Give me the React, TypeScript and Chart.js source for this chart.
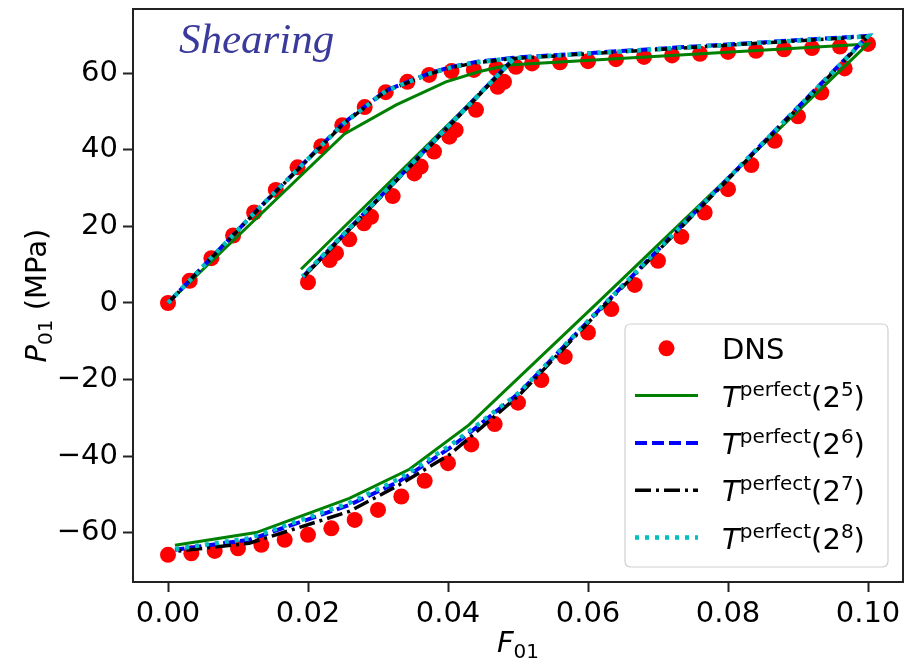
import React, { useEffect, useRef } from "react";
import { Chart, registerables } from "chart.js";

Chart.register(...registerables);

// ---- tick values ----
const xTicks = [0, 0.02, 0.04, 0.06, 0.08, 0.1];
const yTicks = [-60, -40, -20, 0, 20, 40, 60];

// ---- DNS reference points ----
const dnsX = [
  0, 0.0031, 0.0062, 0.0093, 0.0123, 0.0154, 0.0185, 0.0219, 0.0249, 0.0281, 0.0311, 0.0342, 0.0373, 0.0405, 0.0437, 0.0469,
  0.048, 0.044, 0.0411, 0.0361, 0.029, 0.024, 0.02, 0.0231, 0.0259, 0.028, 0.0321, 0.0352, 0.038, 0.0402, 0.0471,
  0.0497, 0.052, 0.056, 0.06, 0.064, 0.068, 0.072, 0.076, 0.08, 0.084, 0.088, 0.092, 0.096, 0.1,
  0.09667, 0.09333, 0.09, 0.08667, 0.08333, 0.08, 0.07667, 0.07333, 0.07, 0.06667, 0.06333, 0.06, 0.05667, 0.05333, 0.05,
  0.04667, 0.04333, 0.04, 0.03667, 0.03333, 0.03, 0.02667, 0.02333, 0.02, 0.01667, 0.01333, 0.01, 0.00667, 0.00333, 0,
];
const dnsY = [
  0, 5.8, 11.7, 17.6, 23.6, 29.5, 35.4, 40.9, 46.4, 51.1, 55.0, 57.7, 59.5, 60.5, 60.8, 61.2,
  57.7, 50.4, 45.1, 35.6, 22.5, 13.0, 5.4, 11.2, 16.6, 20.8, 27.9, 33.8, 39.5, 43.4, 56.4,
  61.6, 62.5, 62.8, 63.1, 63.6, 64.2, 64.6, 65.0, 65.5, 65.8, 66.2, 66.5, 66.9, 67.6,
  61.2, 54.9, 48.7, 42.3, 36.0, 29.7, 23.6, 17.3, 11.0, 4.7, -1.6, -7.7, -14.0, -20.1, -26.0,
  -31.6, -36.9, -41.8, -46.4, -50.5, -54.0, -56.6, -58.8, -60.5, -61.8, -63.1, -64.0, -64.7, -65.3, -65.7,
];

// ---- T^perfect(2^5) ----
const t5X = [0, 0.0252, 0.0326, 0.0397, 0.0445, 0.0487, 0.019, 0.0487, 0.1, 0.0618, 0.043, 0.0345, 0.0259, 0.0126, 0.001];
const t5Y = [0, 44.1, 51.7, 57.7, 60.4, 62.1, 8.8, 62.1, 67.6, 0.8, -31.8, -43.4, -51.0, -59.9, -63.2];

// ---- T^perfect(2^6) ----
const t6X = [0, 0.0125, 0.025, 0.0311, 0.0373, 0.0405, 0.044, 0.0495, 0.0192, 0.0495, 0.0759, 0.1, 0.0625, 0.0502, 0.043, 0.0402, 0.033, 0.0259, 0.0116, 0.001];
const t6Y = [0, 23.8, 46.8, 55.4, 59.9, 61.6, 62.9, 64.0, 6.7, 64.0, 67.0, 69.7, -0.1, -23.4, -34.0, -37.9, -46.6, -52.7, -61.8, -64.4];

// ---- T^perfect(2^7) ----
const t7X = [0, 0.0125, 0.025, 0.0311, 0.0373, 0.0405, 0.044, 0.0495, 0.0192, 0.0495, 0.0759, 0.1, 0.0625, 0.0502, 0.043, 0.0402, 0.033, 0.0259, 0.0116, 0.001];
const t7Y = [0, 23.7, 46.6, 55.2, 59.7, 61.4, 62.7, 63.8, 6.5, 63.8, 66.8, 69.5, -0.4, -24.0, -35.3, -39.6, -47.5, -54.4, -62.7, -64.8];

// ---- T^perfect(2^8) ----
const t8X = [0, 0.0125, 0.025, 0.0311, 0.0373, 0.0405, 0.044, 0.0495, 0.0192, 0.0495, 0.0759, 0.1, 0.0625, 0.0502, 0.043, 0.0402, 0.033, 0.0259, 0.0116, 0.001];
const t8Y = [0, 23.8, 46.7, 55.3, 59.8, 61.5, 62.8, 63.9, 6.9, 63.9, 66.9, 69.6, 0.0, -23.3, -33.5, -37.3, -45.9, -52.2, -61.4, -64.2];

const exponents = ["5", "6", "7", "8"];
const dnsLabel = "DNS";
const titleText = "Shearing";

const toPts = (xs: number[], ys: number[]) => xs.map((x, i) => ({ x, y: ys[i] }));

const FAM = '"DejaVu Sans"';
const F_MAIN = `29px ${FAM}`;
const F_IT = `italic 29px ${FAM}`;
const F_SMALL = `20px ${FAM}`;

type Part = { t: string; f?: string; dy?: number };

function drawParts(ctx: CanvasRenderingContext2D, parts: Part[], x: number, y: number) {
  let cx = x;
  for (const p of parts) {
    ctx.font = p.f || F_MAIN;
    ctx.fillText(p.t, cx, y + (p.dy || 0));
    cx += ctx.measureText(p.t).width;
  }
  return cx - x;
}
function measureParts(ctx: CanvasRenderingContext2D, parts: Part[]) {
  let w = 0;
  for (const p of parts) {
    ctx.font = p.f || F_MAIN;
    w += ctx.measureText(p.t).width;
  }
  return w;
}

const lineStyles = [
  { color: "#008000", width: 3, dash: [] as number[] },
  { color: "#0000ff", width: 4, dash: [12, 5] },
  { color: "#000000", width: 3.5, dash: [16, 5, 3, 5] },
  { color: "#00bfbf", width: 4.5, dash: [4, 6] },
];

const overlayPlugin = {
  id: "overlay",
  afterDatasetsDraw(chart: any) {
    const { ctx, chartArea: a } = chart;
    ctx.save();
    ctx.strokeStyle = "#222";
    ctx.lineWidth = 2;
    ctx.strokeRect(a.left, a.top, a.right - a.left, a.bottom - a.top);
    ctx.restore();
  },
  afterDraw(chart: any) {
    const { ctx, chartArea: a } = chart;
    ctx.save();
    // title
    ctx.fillStyle = "#3a3a9c";
    ctx.font = 'italic 43px "Liberation Serif"';
    ctx.textBaseline = "alphabetic";
    ctx.textAlign = "left";
    ctx.fillText(titleText, 179, 53);

    // x-axis label
    ctx.fillStyle = "#000";
    const xl: Part[] = [{ t: "F", f: F_IT }, { t: "01", f: F_SMALL, dy: 6 }];
    const xw = measureParts(ctx, xl);
    drawParts(ctx, xl, (a.left + a.right) / 2 - xw / 2, 652);

    // y-axis label
    const yl: Part[] = [{ t: "P", f: F_IT }, { t: "01", f: F_SMALL, dy: 6 }, { t: " (MPa)", f: F_MAIN }];
    const yw = measureParts(ctx, yl);
    ctx.save();
    ctx.translate(46, (a.top + a.bottom) / 2);
    ctx.rotate(-Math.PI / 2);
    drawParts(ctx, yl, -yw / 2, 0);
    ctx.restore();

    // legend box
    const bx = 625, by = 324, bw = 263, bh = 243, r = 6;
    ctx.beginPath();
    ctx.moveTo(bx + r, by);
    ctx.lineTo(bx + bw - r, by);
    ctx.quadraticCurveTo(bx + bw, by, bx + bw, by + r);
    ctx.lineTo(bx + bw, by + bh - r);
    ctx.quadraticCurveTo(bx + bw, by + bh, bx + bw - r, by + bh);
    ctx.lineTo(bx + r, by + bh);
    ctx.quadraticCurveTo(bx, by + bh, bx, by + bh - r);
    ctx.lineTo(bx, by + r);
    ctx.quadraticCurveTo(bx, by, bx + r, by);
    ctx.closePath();
    ctx.fillStyle = "rgba(255,255,255,0.8)";
    ctx.fill();
    ctx.strokeStyle = "#d0d0d0";
    ctx.lineWidth = 1.2;
    ctx.stroke();

    const rows = [348.3, 395.6, 442.9, 490.2, 537.5];
    const hx0 = 635, hx1 = 698, tx = 722;
    // DNS row
    ctx.fillStyle = "#ff0000";
    ctx.beginPath();
    ctx.arc((hx0 + hx1) / 2, rows[0], 8, 0, Math.PI * 2);
    ctx.fill();
    ctx.fillStyle = "#000";
    drawParts(ctx, [{ t: dnsLabel }], tx, rows[0] + 11);
    exponents.forEach((e, i) => {
      const s = lineStyles[i];
      const y = rows[i + 1];
      ctx.save();
      ctx.strokeStyle = s.color;
      ctx.lineWidth = s.width;
      ctx.setLineDash(s.dash);
      ctx.beginPath();
      ctx.moveTo(hx0, y);
      ctx.lineTo(hx1, y);
      ctx.stroke();
      ctx.restore();
      ctx.fillStyle = "#000";
      drawParts(
        ctx,
        [
          { t: "T", f: F_IT },
          { t: "perfect", f: F_SMALL, dy: -11 },
          { t: "(2" },
          { t: e, f: F_SMALL, dy: -11 },
          { t: ")" },
        ],
        tx,
        y + 11
      );
    });
    ctx.restore();
  },
};

export default function App() {
  const ref = useRef<HTMLCanvasElement>(null);
  useEffect(() => {
    if (!ref.current) return;
    const mkLine = (xs: number[], ys: number[], i: number, label: string) => ({
      label,
      data: toPts(xs, ys),
      showLine: true,
      borderColor: lineStyles[i].color,
      borderWidth: lineStyles[i].width,
      borderDash: lineStyles[i].dash,
      pointRadius: 0,
      fill: false,
      tension: 0,
      order: 4 - i,
    });
    const tickFont = { family: "DejaVu Sans", size: 29 };
    const chart = new Chart(ref.current, {
      type: "scatter",
      data: {
        datasets: [
          {
            label: dnsLabel,
            data: toPts(dnsX, dnsY),
            showLine: false,
            pointRadius: 8,
            pointBackgroundColor: "#ff0000",
            pointBorderWidth: 0,
            order: 5,
          } as any,
          mkLine(t5X, t5Y, 0, "T^perfect(2^5)"),
          mkLine(t6X, t6Y, 1, "T^perfect(2^6)"),
          mkLine(t7X, t7Y, 2, "T^perfect(2^7)"),
          mkLine(t8X, t8Y, 3, "T^perfect(2^8)"),
        ],
      },
      options: {
        animation: false,
        responsive: false,
        events: [],
        layout: { autoPadding: false, padding: { top: 9, right: 2, left: 0, bottom: 0 } },
        plugins: { legend: { display: false }, tooltip: { enabled: false } },
        scales: {
          x: {
            type: "linear",
            min: -0.005,
            max: 0.105,
            border: { display: false },
            grid: { drawOnChartArea: false, drawTicks: true, tickLength: 10, tickWidth: 2, tickColor: "#222" },
            ticks: {
              font: tickFont,
              color: "#000",
              padding: 5,
              maxRotation: 0,
              autoSkip: false,
              callback: (v: any) => Number(v).toFixed(2),
            },
            afterBuildTicks: (s: any) => {
              s.ticks = xTicks.map((v) => ({ value: v }));
            },
            afterFit: (s: any) => {
              s.height = 82;
              s.paddingLeft = 0;
              s.paddingRight = 0;
              s.paddingTop = 0;
              s.paddingBottom = 0;
            },
          },
          y: {
            type: "linear",
            min: -72.8,
            max: 76.7,
            border: { display: false },
            grid: { drawOnChartArea: false, drawTicks: true, tickLength: 10, tickWidth: 2, tickColor: "#222" },
            ticks: {
              font: tickFont,
              color: "#000",
              padding: 5,
              autoSkip: false,
              callback: (v: any) => (Number(v) < 0 ? "\u2212" + Math.abs(Number(v)) : String(v)),
            },
            afterBuildTicks: (s: any) => {
              s.ticks = yTicks.map((v) => ({ value: v }));
            },
            afterFit: (s: any) => {
              s.width = 133;
              s.paddingLeft = 0;
              s.paddingRight = 0;
              s.paddingTop = 0;
              s.paddingBottom = 0;
            },
          },
        },
      },
      plugins: [overlayPlugin],
    });
    return () => chart.destroy();
  }, []);
  return (
    <div style={{ position: "absolute", left: 0, top: 0, width: 905, height: 664, background: "#fff" }}>
      <canvas ref={ref} width={905} height={664} style={{ display: "block" }} />
    </div>
  );
}
